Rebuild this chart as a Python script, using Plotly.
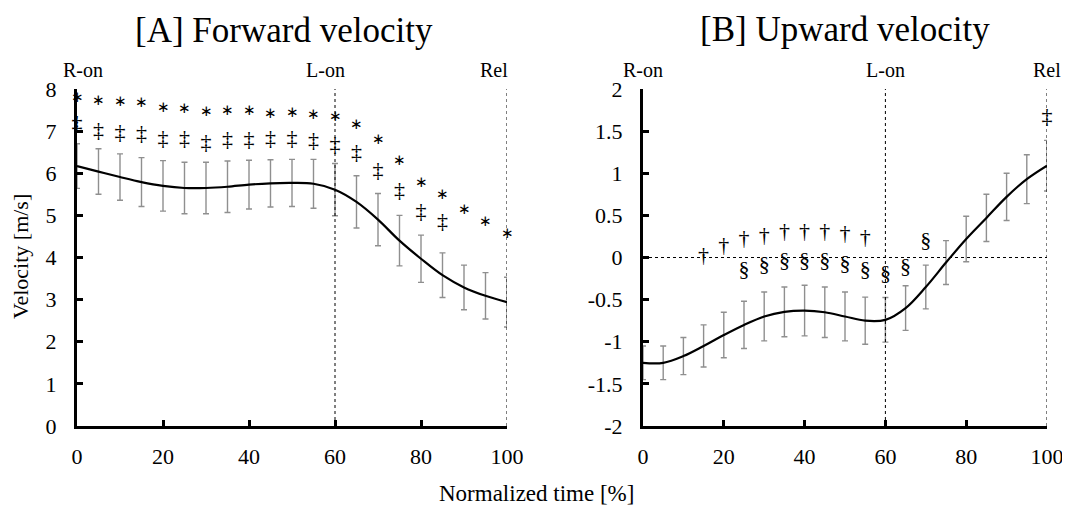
import plotly.graph_objects as go
from plotly.subplots import make_subplots

# normalized time [%]
time_pct = [0, 5, 10, 15, 20, 25, 30, 35, 40, 45, 50, 55, 60, 65, 70, 75, 80, 85, 90, 95, 100]

# [A] forward velocity, mean and SD
fwd_mean = [6.17, 6.04, 5.91, 5.79, 5.70, 5.65, 5.65, 5.68, 5.73, 5.76, 5.77,
            5.75, 5.61, 5.32, 4.90, 4.40, 3.97, 3.58, 3.29, 3.09, 2.94]
fwd_sd = [0.53, 0.54, 0.55, 0.58, 0.60, 0.61, 0.61, 0.61, 0.58, 0.56, 0.56,
          0.58, 0.62, 0.62, 0.62, 0.60, 0.56, 0.53, 0.53, 0.55, 0.59]
# significance marks for [A]
fwd_star_x = time_pct
fwd_star_y = [7.79, 7.71, 7.68, 7.65, 7.55, 7.51, 7.45, 7.47, 7.47, 7.40, 7.42,
              7.38, 7.33, 7.14, 6.79, 6.29, 5.77, 5.48, 5.12, 4.84, 4.55]
fwd_ddag_x = [0, 5, 10, 15, 20, 25, 30, 35, 40, 45, 50, 55, 60, 65, 70, 75, 80, 85]
fwd_ddag_y = [7.15, 6.99, 6.95, 6.91, 6.81, 6.79, 6.71, 6.77, 6.77, 6.80, 6.80,
              6.76, 6.67, 6.47, 6.05, 5.56, 5.08, 4.84]

# [B] upward velocity, mean and SD
up_mean = [-1.25, -1.25, -1.17, -1.05, -0.92, -0.80, -0.70, -0.645, -0.63, -0.65, -0.70,
           -0.75, -0.74, -0.60, -0.35, -0.06, 0.22, 0.47, 0.72, 0.93, 1.09]
up_sd = [0.20, 0.20, 0.22, 0.25, 0.27, 0.28, 0.29, 0.295, 0.30, 0.30, 0.29,
         0.28, 0.265, 0.265, 0.26, 0.26, 0.27, 0.28, 0.28, 0.29, 0.30]
# significance marks for [B]
up_dag_x = [15, 20, 25, 30, 35, 40, 45, 50, 55]
up_dag_y = [0.01, 0.13, 0.21, 0.25, 0.30, 0.30, 0.30, 0.27, 0.23]
up_sec_x = [25, 30, 35, 40, 45, 50, 55, 60, 65, 70]
up_sec_y = [-0.15, -0.10, -0.05, -0.05, -0.05, -0.08, -0.16, -0.20, -0.12, 0.19]
up_ddag_x = [100]
up_ddag_y = [1.66]

# events
event_x = [0, 60, 100]
event_text = ['R-on', 'L-on', 'Rel']

FONT = 'Liberation Serif'
# page body has an 8px margin, so the figure is 8px smaller and positions are shifted
W, H = 1062, 500
OFF = 8


def px(x):
    return (x - OFF) / W


def py(y):
    return (H - (y - OFF)) / H


fig = make_subplots(rows=1, cols=2)


def add_panel(col, mean, sd, marks):
    # SD bars under the mean curve
    fig.add_trace(go.Scatter(x=time_pct, y=mean, mode='markers',
                             marker=dict(size=1, opacity=0),
                             error_y=dict(type='data', array=sd, visible=True,
                                          color='#8f8f8f', thickness=1.4, width=3),
                             showlegend=False, hoverinfo='skip'), row=1, col=col)
    fig.add_trace(go.Scatter(x=time_pct, y=mean, mode='lines', line_shape='spline',
                             line=dict(color='black', width=2.2), showlegend=False),
                  row=1, col=col)
    for mx, my, sym, size in marks:
        fig.add_trace(go.Scatter(x=mx, y=my, mode='text', text=[sym] * len(mx),
                                 textposition='middle center', cliponaxis=False,
                                 textfont=dict(family=FONT, size=size, color='black'),
                                 showlegend=False), row=1, col=col)


# '∗' (asterisk operator) sits on the math axis, so it centres on the value like the others
add_panel(1, fwd_mean, fwd_sd, [(fwd_star_x, fwd_star_y, '∗', 15),
                                (fwd_ddag_x, fwd_ddag_y, '‡', 22)])
add_panel(2, up_mean, up_sd, [(up_dag_x, up_dag_y, '†', 22), (up_sec_x, up_sec_y, '§', 22),
                              (up_ddag_x, up_ddag_y, '‡', 22)])

axis_common = dict(showline=True, linewidth=3, linecolor='black', ticks='inside',
                   ticklen=6, tickwidth=3, tickcolor='black', showgrid=False,
                   zeroline=False, mirror=False, automargin=False,
                   tickfont=dict(family=FONT, size=22, color='black'))

fig.update_xaxes(axis_common, range=[0, 100], tickvals=[0, 20, 40, 60, 80, 100],
                 ticklabelstandoff=9)
fig.update_xaxes(domain=[px(77), px(507)], row=1, col=1)
fig.update_xaxes(domain=[px(643), px(1047)], row=1, col=2)

fig.update_yaxes(axis_common, domain=[py(426), py(89)], ticklabelstandoff=13)
fig.update_yaxes(range=[0, 8], tickvals=list(range(0, 9)), row=1, col=1)
up_ticks = [-2, -1.5, -1, -0.5, 0, 0.5, 1, 1.5, 2]
fig.update_yaxes(range=[-2, 2], tickvals=up_ticks,
                 ticktext=[('%g' % v) for v in up_ticks], row=1, col=2)

# dotted event lines
for xv in [60, 100]:
    fig.add_shape(type='line', xref='x', yref='y', x0=xv, x1=xv, y0=0, y1=8.1,
                  line=dict(color='black', width=1, dash='dot'))
    fig.add_shape(type='line', xref='x2', yref='y2', x0=xv, x1=xv, y0=-2, y1=2.05,
                  line=dict(color='black', width=1, dash='dot'))
fig.add_shape(type='line', xref='x2', yref='y2', x0=0, x1=100, y0=0, y1=0,
              line=dict(color='black', width=1, dash='dot'))

annotations = []
shifts_a = [6, -10, -13]
for xv, t, s in zip(event_x, event_text, shifts_a):
    annotations.append(dict(x=xv, y=py(70), xref='x', yref='paper', text=t,
                            showarrow=False, xshift=s, xanchor='center', yanchor='middle',
                            font=dict(family=FONT, size=20, color='black')))
    annotations.append(dict(x=xv, y=py(70), xref='x2', yref='paper', text=t,
                            showarrow=False, xanchor='center', yanchor='middle',
                            font=dict(family=FONT, size=20, color='black')))
annotations.append(dict(x=px(284), y=py(30), xref='paper', yref='paper',
                        text='[A] Forward velocity', showarrow=False,
                        xanchor='center', yanchor='middle',
                        font=dict(family=FONT, size=35, color='black')))
annotations.append(dict(x=px(845), y=py(29), xref='paper', yref='paper',
                        text='[B] Upward velocity', showarrow=False,
                        xanchor='center', yanchor='middle',
                        font=dict(family=FONT, size=35, color='black')))
annotations.append(dict(x=px(20), y=py(257), xref='paper', yref='paper',
                        text='Velocity [m/s]', showarrow=False, textangle=-90,
                        xanchor='center', yanchor='middle',
                        font=dict(family=FONT, size=22, color='black')))
annotations.append(dict(x=px(536), y=py(493), xref='paper', yref='paper',
                        text='Normalized time [%]', showarrow=False,
                        xanchor='center', yanchor='middle',
                        font=dict(family=FONT, size=23, color='black')))

fig.update_layout(width=W, height=H, margin=dict(l=0, r=0, t=0, b=0),
                  paper_bgcolor='white', plot_bgcolor='white',
                  annotations=annotations, showlegend=False)
fig.write_html("out.html")
